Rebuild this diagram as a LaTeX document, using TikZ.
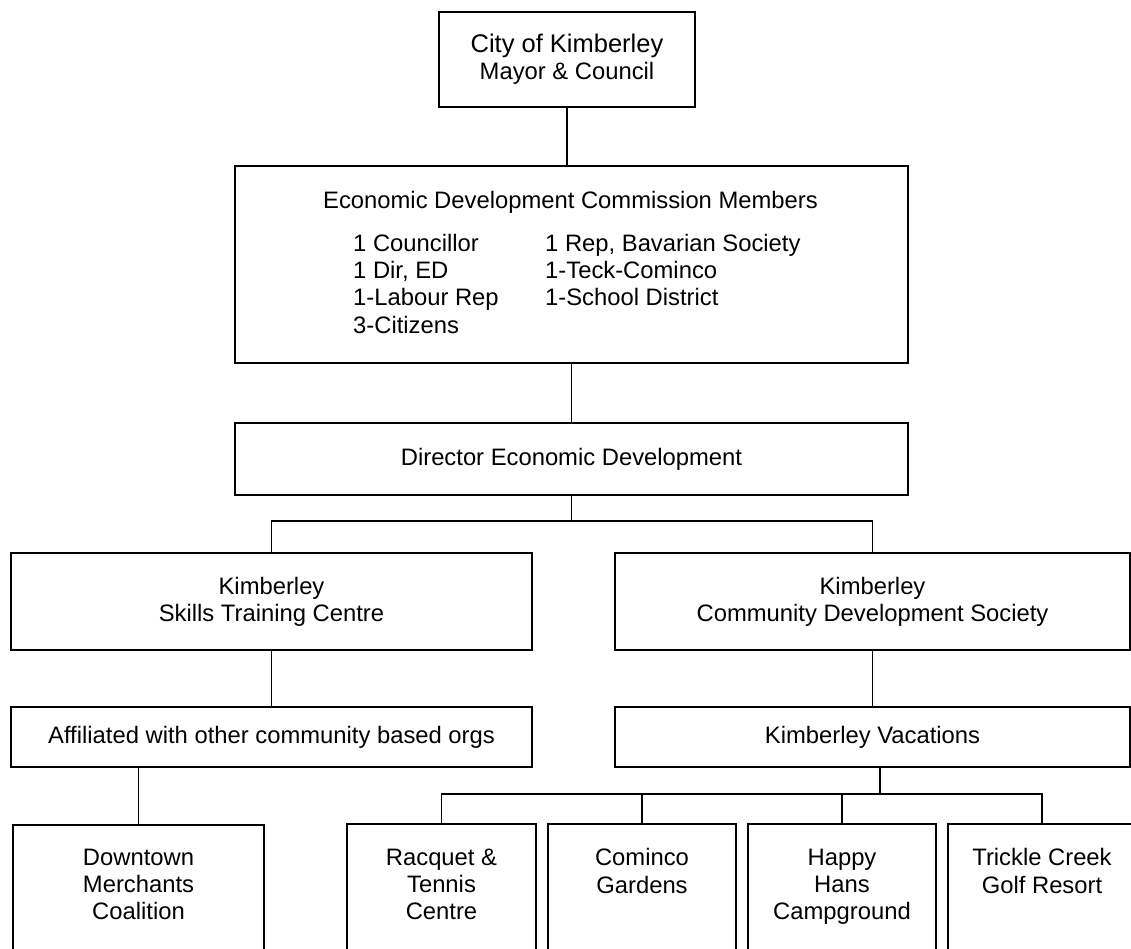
\documentclass[tikz,border=0pt]{standalone}
\usepackage{fontspec}
\setmainfont{Liberation Sans}
\tikzset{
  orgbox/.style={draw, line width=2pt, inner sep=0pt, align=center},
  orgline/.style={line width=1.6pt},
  orgtext/.style={inner sep=0pt, align=center},
}
\begin{document}
\begin{tikzpicture}[x=1pt,y=-1pt,font=\fontsize{23.8}{27.3}\selectfont]
   \useasboundingbox (0,0) rectangle (1131,949);
   \clip (0,0) rectangle (1131,949);
   \node[orgbox, minimum width=256pt, minimum height=95pt] (mayor) at (567,59.5)
      {{\fontsize{25.5}{29}\selectfont City of Kimberley}\\Mayor \& Council};
   \node[orgbox, minimum width=673pt, minimum height=197pt] (edc) at (571.5,264.5) {};
   \node[orgtext, anchor=base] (edctitle) at (570.5,208.5) {Economic Development Commission Members};
   \node[inner sep=0pt, anchor=west] (edcmembers) at (353,286.6)
      {\begin{tabular}{@{}p{192pt}@{}l@{}}
         1 Councillor & 1 Rep, Bavarian Society\\
         1 Dir, ED & 1-Teck-Cominco\\
         1-Labour Rep & 1-School District\\
         3-Citizens &
       \end{tabular}};
   \node[orgbox, minimum width=673pt, minimum height=72pt] (director) at (571.5,459) {Director Economic Development};
   \node[orgbox, minimum width=521pt, minimum height=97pt] (kstc) at (271.5,601.5) {Kimberley\\Skills Training Centre};
   \node[orgbox, minimum width=515pt, minimum height=97pt] (kcds) at (872.5,601.5) {Kimberley\\Community Development Society};
   \node[orgbox, minimum width=521pt, minimum height=60pt] (affil) at (271.5,737) {Affiliated with other community based orgs};
   \node[orgbox, minimum width=515pt, minimum height=60pt] (vac) at (872.5,737) {Kimberley Vacations};
   \node[orgbox, minimum width=251pt, minimum height=200pt, anchor=north] (downtown) at (138.5,824) {};
   \node[orgbox, minimum width=189pt, minimum height=200pt, anchor=north] (racquet) at (441.5,823) {};
   \node[orgbox, minimum width=188pt, minimum height=200pt, anchor=north] (cominco) at (642,823) {};
   \node[orgbox, minimum width=188pt, minimum height=200pt, anchor=north] (happy) at (842,823) {};
   \node[orgbox, minimum width=188pt, minimum height=200pt, anchor=north] (trickle) at (1042,823) {};
   \node[orgtext, anchor=north] (downtowntext) at (138.5,848.5) {Downtown\\Merchants\\Coalition};
   \node[orgtext, anchor=north] (racquettext) at (441.5,848.5) {Racquet \&\\Tennis\\Centre};
   \node[orgtext, anchor=north] (comincotext) at (642,848.5) {Cominco\\Gardens};
   \node[orgtext, anchor=north] (happytext) at (842,848.5) {Happy\\Hans\\Campground};
   \node[orgtext, anchor=north] (trickletext) at (1042,848.5) {Trickle Creek\\Golf Resort};
   \coordinate (split) at (571.5,521);
   \coordinate (vsplit) at (880,794);
   \draw[orgline] (mayor.south) -- (mayor.south |- edc.north);
   \draw[orgline] (edc.south) -- (director.north);
   \draw[orgline] (director.south) -- (split);
   \draw[orgline] (kstc.north) |- (split) -| (kcds.north);
   \draw[orgline] (kstc.south) -- (affil.north);
   \draw[orgline] (kcds.south) -- (vac.north);
   \draw[orgline] (downtown.north) -- (downtown.north |- affil.south);
   \draw[orgline] (vsplit |- vac.south) -- (vsplit);
   \draw[orgline] (racquet.north) |- (vsplit) -| (trickle.north);
   \draw[orgline] (cominco.north) -- (cominco.north |- vsplit);
   \draw[orgline] (happy.north) -- (happy.north |- vsplit);
\end{tikzpicture}
\end{document}
